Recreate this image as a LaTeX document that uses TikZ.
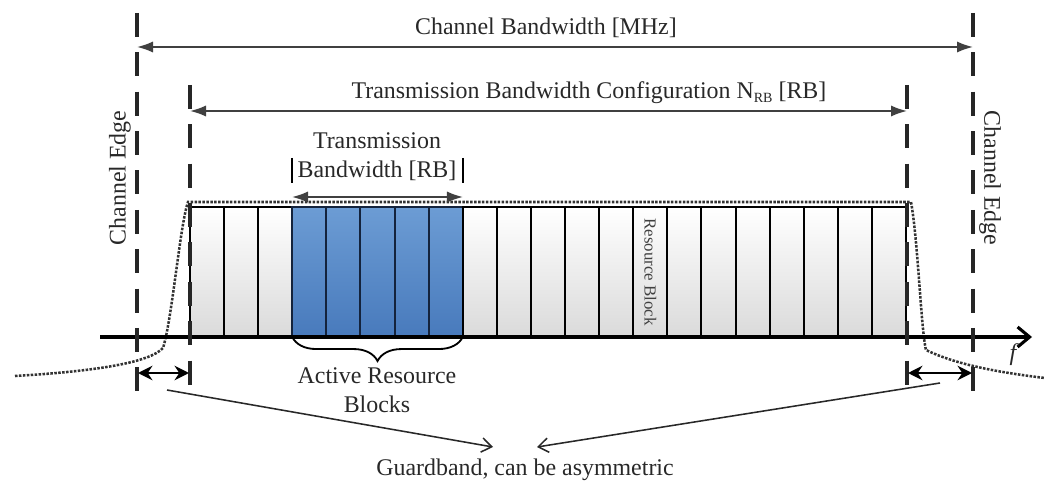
\documentclass[tikz,border=0pt]{standalone}
\usepackage{fontspec}
\setmainfont{Liberation Serif}
\usepackage{tikz}
\usetikzlibrary{arrows.meta,positioning,calc,decorations.pathreplacing}
\definecolor{rbBlueTop}{RGB}{108,156,212}
\definecolor{rbBlueBot}{RGB}{72,122,188}
\definecolor{rbNavy}{RGB}{20,35,60}
\definecolor{rbIdleBot}{RGB}{218,218,218}
\definecolor{rbInk}{RGB}{40,40,40}
\newcommand{\lblfont}{\fontsize{17}{20.5}\selectfont}
\newcommand{\nrb}{N\raisebox{-0.3ex}{\fontsize{10}{10}\selectfont RB}}
\tikzset{
    rbIdle/.style={
        rectangle,
        draw=black,
        line width=1.4pt,
        top color=white,
        bottom color=rbIdleBot,
        minimum width=0.8524cm,
        minimum height=3.25cm,
        inner sep=0pt,
        outer sep=0pt,
        anchor=north west
    },
    rbActive/.style={rbIdle, top color=rbBlueTop, bottom color=rbBlueBot, draw=rbNavy},
    % Lines
    edgeLine/.style={line width=2.2pt, draw=black!85, dash pattern=on 17pt off 11pt},
    spectrum/.style={densely dotted, line width=1.8pt, draw=black!80},
    brace/.style={decorate, decoration={brace, amplitude=0.6cm}, line width=1.3pt},
    % Arrows
    dimArrow/.style={{Latex[length=4mm,width=2.8mm]}-{Latex[length=4mm,width=2.8mm]}, line width=1.3pt, draw=black!75},
    gbArrow/.style={{Stealth[length=3.6mm,width=3.6mm]}-{Stealth[length=3.6mm,width=3.6mm]}, line width=1.7pt},
    gbPointer/.style={-{Straight Barb[length=2.5mm,width=3.6mm]}, line width=1.1pt, draw=rbInk},
    freqAxis/.style={-{Straight Barb[length=3mm,width=5mm,line width=2.2pt]}, line width=2.2pt},
    lbl/.style={font=\lblfont, text=rbInk, inner sep=1pt, align=center}
}
\begin{document}
\begin{tikzpicture}[x=0.025cm, y=-0.025cm]
\useasboundingbox (0,0) rectangle (1048,486);

% spectrum mask
\draw[spectrum] (15,376) .. controls (100,371) and (150,362) .. (163,348)
    .. controls (172,320) and (180,225) .. (188,202) -- (911,202)
    .. controls (918,240) and (921,330) .. (926,350)
    .. controls (955,364) and (995,372) .. (1045,378);

% resource blocks
\foreach \i in {0,1,2} {\node[rbIdle] (rb\i) at ({190+34.095*\i},207) {};}
\foreach \i in {3,...,7} {\node[rbActive] (rb\i) at ({190+34.095*\i},207) {};}
\foreach \i in {8,...,20} {\node[rbIdle] (rb\i) at ({190+34.095*\i},207) {};}
\node[rotate=-90, font=\fontsize{12}{13}\selectfont, text=black!75, inner sep=0pt] (rbName) at (rb13) {Resource Block};

% frequency axis
\coordinate (axL) at (100,337);
\coordinate (axR) at (1032,337);
\draw[freqAxis] (axL) -- (axR);
\node[lbl, font=\lblfont\itshape] (fLbl) at (1013,355) {f};

% channel edges
\coordinate (outerLtop) at (137,13);
\coordinate (outerLbot) at (137,392);
\coordinate (outerRtop) at (973,13);
\coordinate (outerRbot) at (973,392);
\coordinate (innerLtop) at (190,85);
\coordinate (innerLbot) at (190,392);
\coordinate (innerRtop) at (907,85);
\coordinate (innerRbot) at (907,392);
\draw[edgeLine] (outerLtop) -- (outerLbot);
\draw[edgeLine] (outerRtop) -- (outerRbot);
\draw[edgeLine] (innerLtop) -- (innerLbot);
\draw[edgeLine] (innerRtop) -- (innerRbot);
\node[lbl, rotate=90] (edgeLText) at (120,178) {Channel Edge};
\node[lbl, rotate=-90] (edgeRText) at (990,178) {Channel Edge};

% bandwidths
\coordinate (cbL) at (137,47);
\coordinate (cbR) at (973,47);
\draw[dimArrow] (cbL) -- (cbR);
\node[lbl] (cbText) at (546,28) {Channel Bandwidth [MHz]};

\coordinate (tbcL) at (190,111);
\coordinate (tbcR) at (907,111);
\draw[dimArrow] (tbcL) -- (tbcR);
\node[lbl] (tbcText) at (589,93) {Transmission Bandwidth Configuration \nrb{} [RB]};

\coordinate (tbL) at (292,197);
\coordinate (tbR) at (463,197);
\coordinate (barLtop) at (292,158);
\coordinate (barLbot) at (292,183);
\coordinate (barRtop) at (463,158);
\coordinate (barRbot) at (463,183);
\draw[dimArrow] (tbL) -- (tbR);
\draw[line width=1.6pt] (barLtop) -- (barLbot);
\draw[line width=1.6pt] (barRtop) -- (barRbot);
\node[lbl] (tbText) at (377,157) {Transmission\\Bandwidth [RB]};

% active blocks
\draw[brace] (rb7.south east) -- (rb3.south west);
\node[lbl] (activeText) at (377,390) {Active Resource\\Blocks};

% guardbands
\coordinate (gbL1) at (138,373);
\coordinate (gbL2) at (189,373);
\coordinate (gbR1) at (908,373);
\coordinate (gbR2) at (972,373);
\draw[gbArrow] (gbL1) -- (gbL2);
\draw[gbArrow] (gbR1) -- (gbR2);

\node[lbl] (gbText) at (525,470) {Guardband, can be asymmetric};
\coordinate (ptrL) at (167,390);
\coordinate (ptrR) at (940,383);
\coordinate (tipL) at (493,447);
\coordinate (tipR) at (537,447);
\draw[gbPointer] (ptrL) -- (tipL);
\draw[gbPointer] (ptrR) -- (tipR);
\end{tikzpicture}
\end{document}
